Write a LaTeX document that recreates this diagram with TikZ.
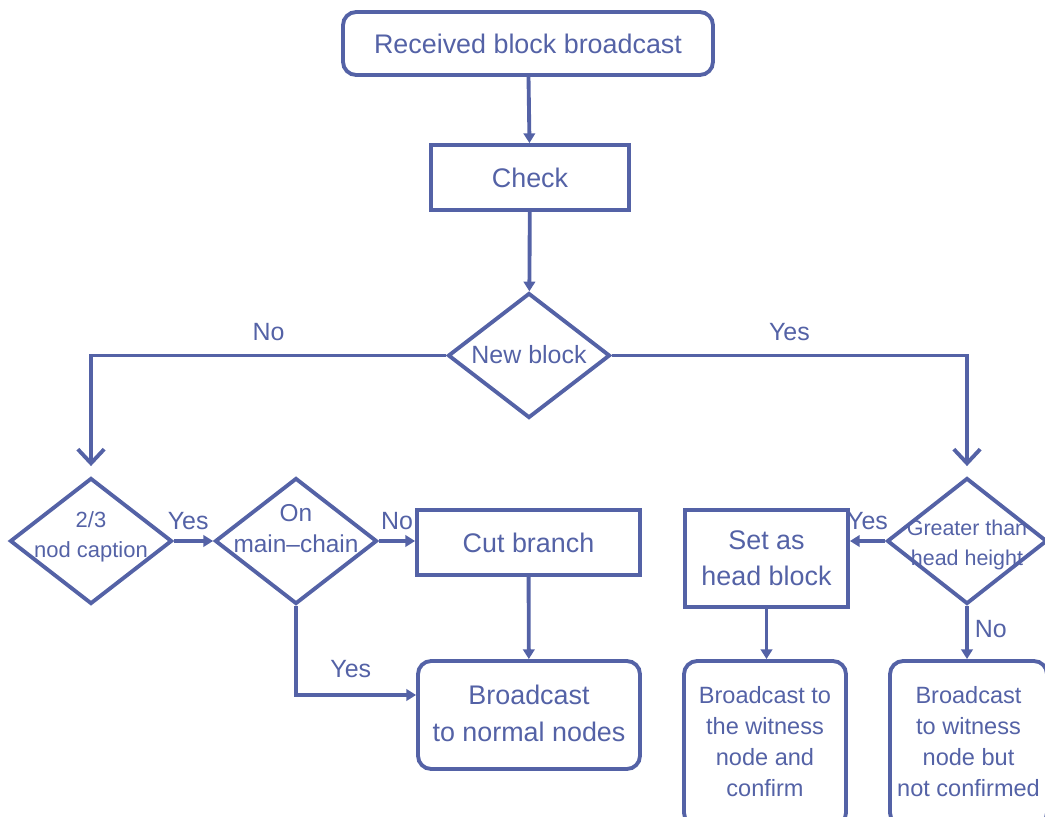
\documentclass[tikz,border=0pt]{standalone}
\usepackage{fontspec}
\setmainfont{Liberation Sans}
\usetikzlibrary{arrows.meta,positioning,calc,shapes.geometric}
\definecolor{flowblue}{RGB}{84,98,166}
\newcommand{\dtexte}[2][0pt]{\smash{\makebox[0pt]{\raisebox{#1}{\begin{tabular}{@{}c@{}}#2\end{tabular}}}}}

\begin{document}
\begin{tikzpicture}[
  etape/.style={draw=flowblue, text=flowblue, line width=2.2pt, align=center, inner sep=0pt,
    font=\fontsize{15.3}{20.5}\selectfont},
  arrondi/.style={etape, rounded corners=7.5pt},
  test/.style={diamond, draw=flowblue, text=flowblue, line width=2.2pt, inner sep=0pt,
    minimum width=3.24cm, minimum height=2.52cm, font=\fontsize{12.5}{17}\selectfont},
  lien/.style={flowblue, line width=2.2pt},
  fleche/.style={lien, -{Triangle[length=5.5pt,width=6.5pt]}},
  grandefleche/.style={lien, -{Straight Barb[length=8pt,width=15pt]}, shorten >=0.2cm},
  etiq/.style={text=flowblue, font=\fontsize{14.2}{17}\selectfont}]
  \useasboundingbox (0,0) rectangle (20.9,-16.34);
  % Tronc principal
  \node[arrondi, minimum width=7.4cm, minimum height=1.26cm] (recu) at (10.56,-0.87) {Received block broadcast};
  \node[etape, minimum width=3.96cm, minimum height=1.3cm] (verif) at (10.6,-3.55) {Check};
  \node[test, minimum height=2.5cm, font=\fontsize{14.2}{17}\selectfont] (nouveau) at (10.58,-7.11) {\dtexte[-4.8pt]{New block}};
  % Branche gauche
  \node[test] (deuxtiers) at (1.82,-10.82) {\dtexte[-0.5pt]{2/3\\nod caption}};
  \node[test, font=\fontsize{13.9}{17.6}\selectfont] (principale) at (5.92,-10.82) {\dtexte[2.3pt]{On\\main--chain}};
  \node[etape, minimum width=4.46cm, minimum height=1.3cm] (coupe) at (10.57,-10.85) {Cut branch};
  \node[arrondi, minimum width=4.44cm, minimum height=2.16cm, font=\fontsize{15.3}{21}\selectfont] (normaux) at (10.58,-14.3) {\raisebox{1.5pt}{Broadcast}\\\raisebox{1.5pt}{to normal nodes}};
  % Branche droite
  \node[test, minimum width=3.2cm, font=\fontsize{12.2}{17}\selectfont] (hauteur) at (19.34,-10.82) {\dtexte[-5pt]{Greater than\\head height}};
  \node[etape, minimum width=3.26cm, minimum height=1.94cm] (tete) at (15.33,-11.17) {Set as\\head block};
  \node[arrondi, minimum width=3.24cm, minimum height=3.3cm, font=\fontsize{13.4}{17.6}\selectfont] (confirme) at (15.3,-14.87) {\raisebox{2pt}{\begin{tabular}{@{}c@{}}Broadcast to\\the witness\\node and\\confirm\end{tabular}}};
  \node[arrondi, minimum width=3.14cm, minimum height=3.3cm, font=\fontsize{13.4}{17.6}\selectfont] (nonconf) at (19.37,-14.87) {\raisebox{2pt}{\begin{tabular}{@{}c@{}}Broadcast\\to witness\\node but\\not confirmed\end{tabular}}};
  % Connecteurs
  \draw[fleche] (recu) -- (verif);
  \draw[fleche] (verif) -- (nouveau);
  \draw[grandefleche] (nouveau.west) -| (deuxtiers.north) node[etiq, pos=0.25, above=4pt] {No};
  \draw[grandefleche] (nouveau.east) -| (hauteur.north) node[etiq, pos=0.25, above=4pt] {Yes};
  \draw[fleche] (deuxtiers.east) -- (principale.west) node[etiq, midway, above=2pt, xshift=-3pt] {Yes};
  \draw[fleche] (principale.east) -- (principale.east -| coupe.west) node[etiq, midway, above=2pt] {No};
  \draw[fleche] (principale.south) |- ($(normaux.west)+(0,0.4)$) node[etiq, pos=0.75, above=5.5pt, xshift=-3pt] {Yes};
  \draw[fleche] (coupe) -- (normaux);
  \draw[fleche] (hauteur.west) -- (hauteur.west -| tete.east) node[etiq, midway, above=2pt] {Yes};
  \draw[fleche] (tete.south) -- (tete.south |- confirme.north);
  \draw[fleche] (hauteur.south) -- (hauteur.south |- nonconf.north) node[etiq, midway, right=0pt, yshift=2pt] {No};
\end{tikzpicture}
\end{document}
